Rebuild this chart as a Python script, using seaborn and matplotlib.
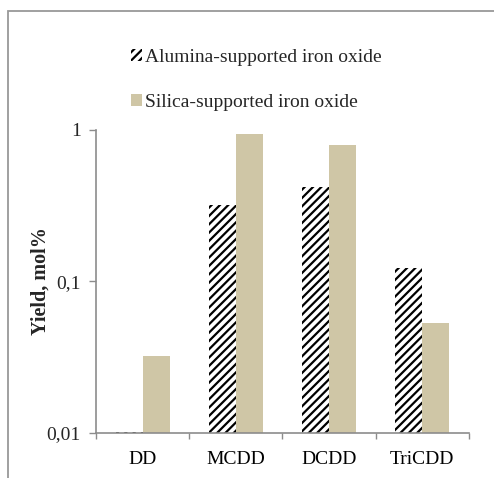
import matplotlib
matplotlib.use("Agg")
import matplotlib.pyplot as plt
from matplotlib.patches import Patch, Rectangle
from matplotlib.ticker import FixedLocator, FixedFormatter, NullLocator
import seaborn as sns
import pandas as pd

# Yields per congener
categories = ["DD", "MCDD", "DCDD", "TriCDD"]
alumina = [0.0102, 0.32, 0.42, 0.122]
silica = [0.032, 0.94, 0.79, 0.053]
series = ["Alumina-supported iron oxide", "Silica-supported iron oxide"]
ytick_values = [0.01, 0.1, 1]
ytick_labels = ["0,01", "0,1", "1"]

df = pd.DataFrame({
    "congener": categories * 2,
    "yield": alumina + silica,
    "support": [series[0]] * len(categories) + [series[1]] * len(categories),
})

sns.set_theme(style="white")
plt.rcParams["font.family"] = ["Liberation Serif", "DejaVu Serif"]
plt.rcParams["hatch.linewidth"] = 1.6

beige = "#CFC6A6"
grey = "#8C8C8C"

fig = plt.figure(figsize=(4.94, 4.78), dpi=100)
ax = fig.add_axes([0.1943, 0.0941, 0.755, 0.634])

sns.barplot(data=df, x="congener", y="yield", hue="support",
            order=categories, hue_order=series,
            palette=["white", beige], width=0.58, gap=0,
            saturation=1, legend=False, ax=ax, log_scale=True)

n = len(categories)
for i, bar in enumerate(ax.patches[:2 * n]):
    if i < n:
        bar.set_facecolor("white")
        bar.set_edgecolor("black")
        bar.set_hatch("////")
        bar.set_linewidth(0)
    else:
        bar.set_facecolor(beige)
        bar.set_edgecolor(beige)
        bar.set_linewidth(0)

ax.set_yscale("log")
ax.set_ylim(0.01, 1)
ax.set_xlim(-0.5, n - 0.5)
ax.yaxis.set_major_locator(FixedLocator(ytick_values))
ax.yaxis.set_major_formatter(FixedFormatter(ytick_labels))
ax.yaxis.set_minor_locator(NullLocator())

# category boundaries carry the x ticks
ax.set_xticks([i - 0.5 for i in range(n + 1)], minor=False)
ax.set_xticklabels([])
ax.set_xticks(range(n), minor=True)
ax.set_xticklabels(categories, minor=True)
ax.tick_params(axis="x", which="major", length=4, width=1, color=grey,
               direction="out", bottom=True)
ax.tick_params(axis="x", which="minor", length=0, labelsize=14, pad=13,
               colors="black")
ax.tick_params(axis="y", which="major", length=5, width=1, color=grey,
               direction="out", left=True, labelsize=14, pad=6)

for side in ("top", "right"):
    ax.spines[side].set_visible(False)
for side in ("left", "bottom"):
    ax.spines[side].set_color(grey)
    ax.spines[side].set_linewidth(1.2)

ax.set_xlabel("")
ax.set_ylabel("Yield, mol%", fontsize=14.5, fontweight="bold", labelpad=-3)

handles = [
    Patch(facecolor="white", edgecolor="black", hatch="////", linewidth=0),
    Patch(facecolor=beige, edgecolor=beige, linewidth=0),
]
fig.legend(handles, series, loc="upper left", bbox_to_anchor=(0.245, 0.918),
           frameon=False, fontsize=14, handlelength=0.6, handleheight=0.6,
           handletextpad=0.15, labelspacing=1.42, borderpad=0)

# outer chart frame
fig.patches.append(Rectangle((8 / 494, -0.1), 1.2, 1 - 11 / 478 + 0.1,
                             transform=fig.transFigure, fill=False,
                             edgecolor="#999999", linewidth=1.3))

fig.savefig("out.png", dpi=100)
